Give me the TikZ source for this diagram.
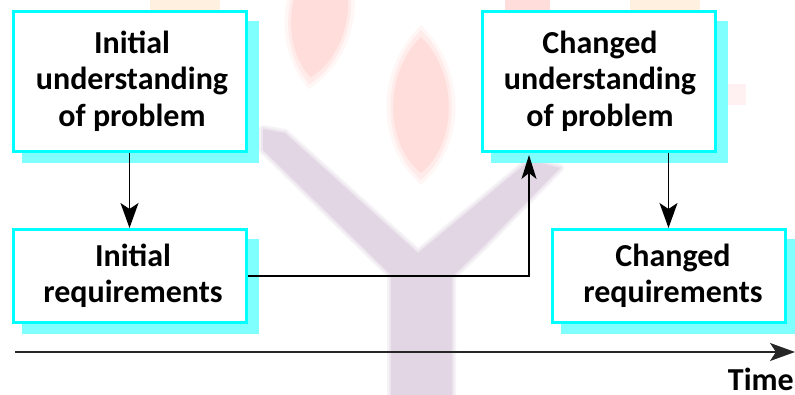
\documentclass[tikz,border=0pt]{standalone}
\usepackage{fontspec}
\setmainfont{Carlito}
\usetikzlibrary{arrows.meta}
\definecolor{boxc}{RGB}{0,255,255}
\definecolor{shadc}{RGB}{128,255,255}
\definecolor{petal}{RGB}{255,221,219}
\definecolor{stem}{RGB}{226,214,228}
\definecolor{peach}{RGB}{255,240,224}
\tikzset{
  box/.style={draw=boxc,line width=3pt,fill=white,minimum width=233pt,inner sep=0pt},
  boxtext/.style={font=\fontsize{32}{36.5}\selectfont\bfseries,align=center,inner sep=0pt},
  shad/.style={fill=shadc,draw=none},
  conn/.style={draw=black,line width=1.5pt,-{Stealth[length=25pt,width=18pt,inset=6pt]}},
  thin conn/.style={draw=black,line width=1.1pt,-{Stealth[length=24pt,width=15pt,inset=6pt]}},
  petalshape/.pic={
    \fill[petal!25] (0,-80) .. controls (-46,-35) and (-46,40) .. (0,80) .. controls (46,40) and (46,-35) .. (0,-80) -- cycle;
    \fill[petal!60] (0,-75) .. controls (-41,-35) and (-41,40) .. (0,75) .. controls (41,40) and (41,-35) .. (0,-75) -- cycle;
    \fill[petal] (0,-68) .. controls (-37,-32) and (-37,38) .. (0,68) .. controls (37,38) and (37,-32) .. (0,-68) -- cycle;
  }
}
\newcommand{\ypath}{(263,129) -- (285,133) -- (418,253) -- (530,160) -- (560,168) -- (483,247) -- (452,277) -- (452,398) -- (391,398) -- (391,275) -- (263,150) -- cycle}
\begin{document}
\begin{tikzpicture}[x=1pt,y=-1pt]
\useasboundingbox (0,0) rectangle (795,395);
\fill[white] (0,0) rectangle (795,395);
% watermark
\begin{scope}
\clip (0,0) rectangle (795,395);
\pic at (421,105) {petalshape};
\pic[rotate=-8] at (320,10) {petalshape};
\fill[petal] (505,-8) rectangle (550,10);
\fill[peach] (150,-8) rectangle (220,10);
\fill[peach] (630,-8) rectangle (700,10);
\fill[petal!40] (727,84) rectangle (746,105);
\draw[stem!30,line width=8pt,line join=round,fill=stem!30] \ypath;
\draw[stem!60,line width=4pt,line join=round,fill=stem!60] \ypath;
\fill[stem] \ypath;
\end{scope}
% shadows
\fill[shad] (22,21) rectangle (259,163);
\fill[shad] (22,239) rectangle (259,334);
\fill[shad] (491,21) rectangle (728,163);
\fill[shad] (561,239) rectangle (795,334);
% boxes
\node[box,minimum height=140pt] (iu) at (129.5,81.5) {};
\node[box,minimum height=93pt] (ir) at (129.5,276) {};
\node[box,minimum height=140pt] (cu) at (598.5,81.5) {};
\node[box,minimum height=93pt] (cr) at (668.5,276) {};
\node[boxtext] (iut) at (132,81) {Initial\\understanding\\of problem};
\node[boxtext] (irt) at (133,276) {Initial\\requirements};
\node[boxtext] (cut) at (600,81) {Changed\\understanding\\of problem};
\node[boxtext] (crt) at (673,276) {Changed\\requirements};
\coordinate (tl) at (15,352);
\coordinate (tr) at (795,352);
\draw[conn] (iu.south) -- (ir.north);
\draw[conn] (iu.south -| cr.north) -- (cr.north);
\draw[thin conn] (ir.east) -- (529,276) -- (529,155);
\draw[line width=1.5pt,draw=black!85,-{Stealth[length=25pt,width=18pt,inset=6pt]}] (tl) -- (tr);
\node[anchor=base east,inner sep=0pt,font=\fontsize{32}{36}\selectfont\bfseries] (time) at (794,390) {Time};
\end{tikzpicture}
\end{document}
